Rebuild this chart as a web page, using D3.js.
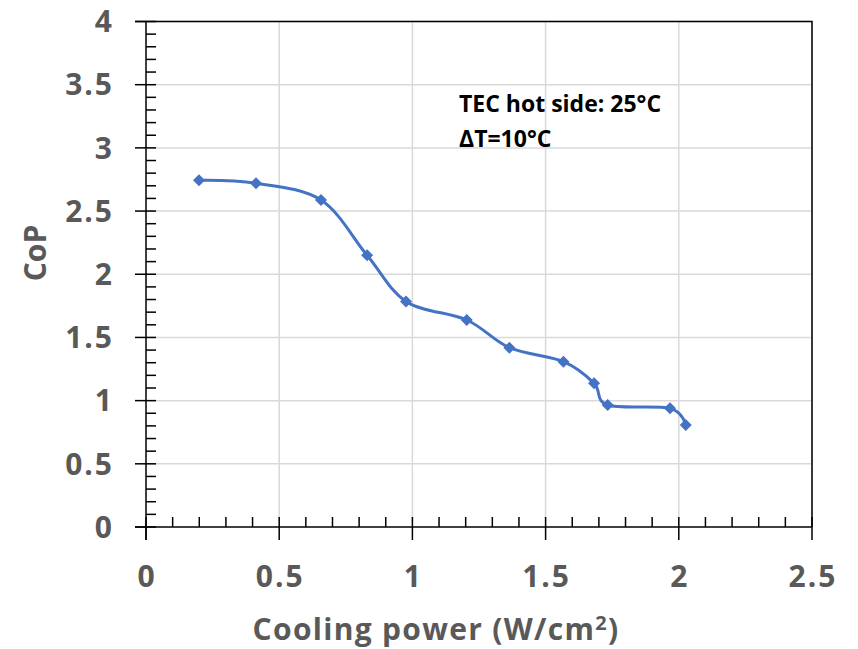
<!DOCTYPE html>
<meta charset="utf-8">
<script src="https://d3js.org/d3.v7.min.js"></script>
<style>
  body { margin: 0; background: #fff; }
  text { font-family: "Open Sans", sans-serif; }
</style>
<body>
<div id="chart"></div>
<script>
// cooling power (W/cm2) and CoP
var power = [0.199, 0.413, 0.657, 0.83, 0.976, 1.204, 1.364, 1.567, 1.682, 1.733, 1.967, 2.026];
var cop   = [2.743, 2.72, 2.587, 2.15, 1.785, 1.638, 1.419, 1.308, 1.137, 0.965, 0.939, 0.807];
var xTicks = [0, 0.5, 1, 1.5, 2, 2.5];
var yTicks = [0, 0.5, 1, 1.5, 2, 2.5, 3, 3.5, 4];
var note = ["TEC hot side: 25\u00B0C", "\u0394T=10\u00B0C"];

var W = 858, H = 649;
var pL = 146, pR = 812, pT = 21.5, pB = 527;

var svg = d3.select("#chart").append("svg")
    .attr("width", W)
    .attr("height", H);

var x = d3.scaleLinear().domain([0, 2.5]).range([pL, pR]);
var y = d3.scaleLinear().domain([0, 4]).range([pB, pT]);

// grid
svg.append("g").selectAll("line")
  .data(xTicks.slice(1))
  .enter().append("line")
    .attr("x1", d => x(d)).attr("x2", d => x(d))
    .attr("y1", pT).attr("y2", pB)
    .style("stroke", "#d9d9d9").style("stroke-width", 1.5);
svg.append("g").selectAll("line")
  .data(yTicks.slice(1))
  .enter().append("line")
    .attr("x1", pL).attr("x2", pR)
    .attr("y1", d => y(d)).attr("y2", d => y(d))
    .style("stroke", "#d9d9d9").style("stroke-width", 1.5);

// frame (top + right)
svg.append("path")
  .attr("d", "M" + (pL - 11) + "," + pT + "H" + pR + "V" + pB)
  .style("fill", "none").style("stroke", "#000").style("stroke-width", 1.5);

// axes with minor ticks inside, major crossing
var ax = svg.append("g").style("stroke", "#000").style("stroke-width", 1.5);
ax.append("line").attr("x1", pL - 11).attr("x2", pR).attr("y1", pB).attr("y2", pB);
ax.append("line").attr("x1", pL).attr("x2", pL).attr("y1", pT).attr("y2", pB + 13);

function isMajor(d) { return Math.abs(d * 2 - Math.round(d * 2)) < 1e-6; }

var xMinor = d3.range(0, 2.5001, 0.1);
ax.append("g").selectAll("line").data(xMinor).enter().append("line")
  .attr("x1", d => x(d)).attr("x2", d => x(d))
  .attr("y1", pB - 10)
  .attr("y2", d => isMajor(d) ? pB + 13 : pB);

var yMinor = d3.range(0, 4.0001, 0.1);
ax.append("g").selectAll("line").data(yMinor).enter().append("line")
  .attr("y1", d => y(d)).attr("y2", d => y(d))
  .attr("x2", pL + 10)
  .attr("x1", d => isMajor(d) ? pL - 11 : pL);

// tick labels
var lab = { size: "30px", fill: "#595959" };
svg.append("g").selectAll("text")
  .data(yTicks).enter().append("text")
    .attr("x", 114)
    .attr("y", d => y(d))
    .attr("dy", "0.36em")
    .attr("text-anchor", "end")
    .style("font-size", lab.size).style("font-weight", 700).style("fill", lab.fill)
    .style("letter-spacing", "2px")
    .text(d => d);
svg.append("g").selectAll("text")
  .data(xTicks).enter().append("text")
    .attr("x", d => x(d) + 1)
    .attr("y", 587)
    .attr("text-anchor", "middle")
    .style("font-size", lab.size).style("font-weight", 700).style("fill", lab.fill)
    .style("letter-spacing", "2px")
    .text(d => d);

// axis titles
svg.append("text")
  .attr("transform", "translate(46,253) rotate(-90)")
  .attr("text-anchor", "middle")
  .style("font-size", "30px").style("font-weight", 700).style("fill", lab.fill)
  .text("CoP");

var xt = svg.append("text")
  .attr("x", 436).attr("y", 640)
  .attr("text-anchor", "middle")
  .style("font-size", "30px").style("font-weight", 700).style("fill", lab.fill)
  .style("letter-spacing", "1.3px");
xt.append("tspan").text("Cooling power (W/cm");
xt.append("tspan").attr("dy", -10).style("font-size", "20px").text("2");
xt.append("tspan").attr("dy", 10).text(")");

// annotation
svg.append("g").selectAll("text")
  .data(note).enter().append("text")
    .attr("x", 459)
    .attr("y", (d, i) => 112 + i * 35)
    .style("font-size", "23px").style("font-weight", 700).style("fill", "#000")
    .text(d => d);

// series
var pts = power.map((p, i) => [p, cop[i]]);
var line = d3.line()
  .x(d => x(d[0])).y(d => y(d[1]))
  .curve(d3.curveCardinal.tension(0));

svg.append("path")
  .datum(pts)
  .attr("d", line)
  .style("fill", "none").style("stroke", "#4472c4").style("stroke-width", 3);

svg.append("g").selectAll("path")
  .data(pts).enter().append("path")
    .attr("transform", d => "translate(" + x(d[0]) + "," + y(d[1]) + ") rotate(45)")
    .attr("d", d3.symbol().type(d3.symbolSquare).size(72))
    .style("fill", "#4472c4");
</script>
</body>
